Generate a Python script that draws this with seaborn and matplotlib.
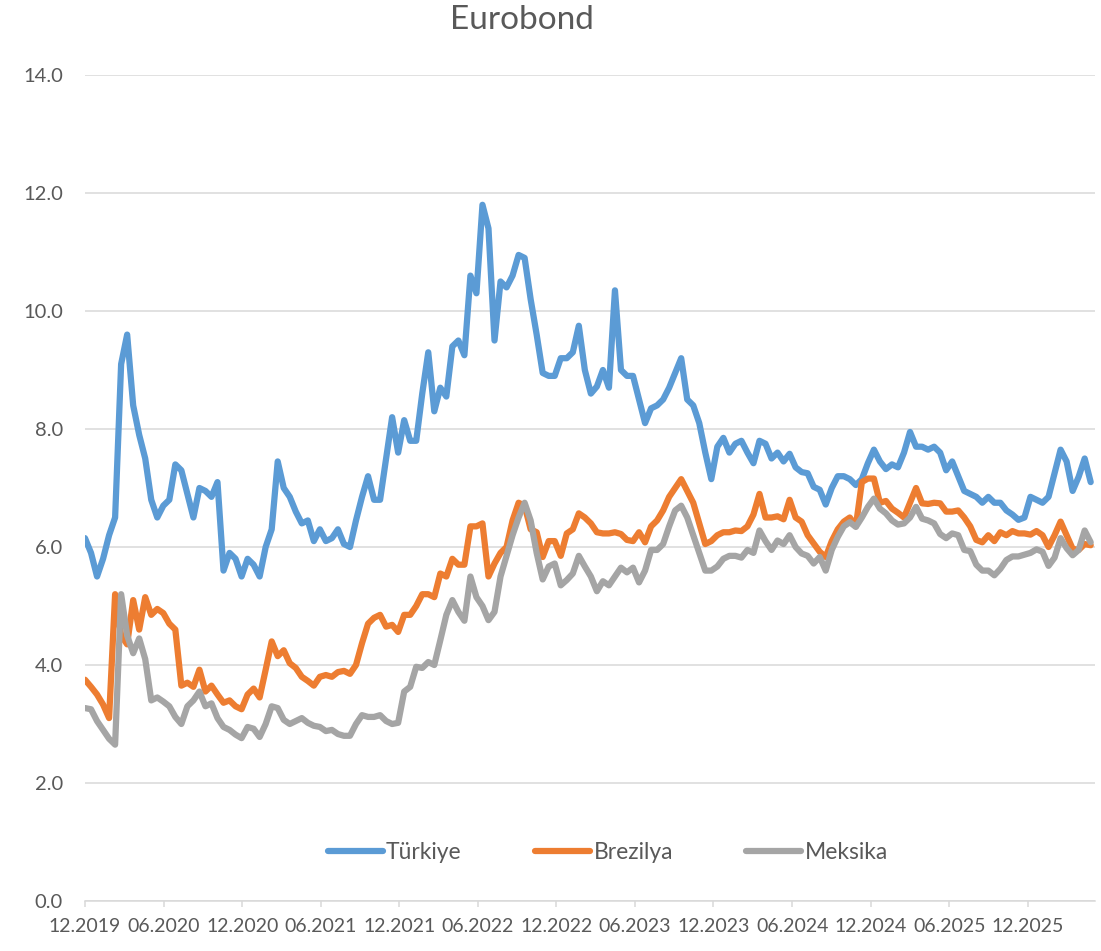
import matplotlib
matplotlib.use("Agg")
import matplotlib.pyplot as plt
from matplotlib.lines import Line2D
from matplotlib.ticker import FormatStrFormatter
import seaborn as sns
import pandas as pd

# ---------------- data (biweekly readings, start 2019-12-01) ----------------
start_date = "2019-12-01"
step = "14D"
series_names = ["Türkiye", "Brezilya", "Meksika"]
series_colors = ["#5B9BD5", "#ED7D31", "#A5A5A5"]

turkiye = [
    6.15, 5.9, 5.5, 5.8, 6.2, 6.5, 9.1, 9.6, 8.4, 7.9, 7.5, 6.8,
    6.5, 6.7, 6.8, 7.4, 7.3, 6.9, 6.5, 7.0, 6.95, 6.85, 7.1, 5.6,
    5.9, 5.8, 5.5, 5.8, 5.7, 5.5, 6.0, 6.3, 7.45, 7.0, 6.85, 6.6,
    6.4, 6.45, 6.1, 6.3, 6.1, 6.15, 6.3, 6.05, 6.0, 6.45, 6.85, 7.2,
    6.8, 6.8, 7.5, 8.2, 7.6, 8.15, 7.8, 7.8, 8.6, 9.3, 8.3, 8.7,
    8.55, 9.4, 9.5, 9.25, 10.6, 10.3, 11.8, 11.4, 9.5, 10.5, 10.4, 10.6,
    10.95, 10.9, 10.2, 9.6, 8.95, 8.9, 8.9, 9.2, 9.2, 9.3, 9.75, 9.0,
    8.6, 8.72, 9.0, 8.7, 10.35, 9.0, 8.9, 8.9, 8.5, 8.1, 8.35, 8.4,
    8.5, 8.7, 8.95, 9.2, 8.5, 8.4, 8.1, 7.6, 7.15, 7.7, 7.85, 7.6,
    7.75, 7.8, 7.6, 7.42, 7.8, 7.75, 7.5, 7.6, 7.45, 7.58, 7.35, 7.27,
    7.25, 7.02, 6.97, 6.72, 7.0, 7.2, 7.2, 7.15, 7.05, 7.15, 7.42, 7.65,
    7.45, 7.32, 7.4, 7.35, 7.6, 7.95, 7.7, 7.7, 7.65, 7.7, 7.6, 7.3,
    7.45, 7.2, 6.95, 6.9, 6.85, 6.75, 6.85, 6.75, 6.75, 6.62, 6.55, 6.46,
    6.5, 6.85, 6.8, 6.75, 6.85, 7.25, 7.65, 7.45, 6.95, 7.19, 7.5, 7.1,
]

brezilya = [
    3.75, 3.63, 3.5, 3.33, 3.1, 5.2, 4.5, 4.35, 5.1, 4.6, 5.15, 4.85,
    4.95, 4.88, 4.7, 4.6, 3.65, 3.7, 3.63, 3.92, 3.55, 3.65, 3.5, 3.36,
    3.4, 3.3, 3.25, 3.5, 3.6, 3.45, 3.92, 4.4, 4.15, 4.25, 4.03, 3.95,
    3.8, 3.73, 3.65, 3.8, 3.83, 3.8, 3.88, 3.9, 3.85, 4.0, 4.37, 4.7,
    4.8, 4.85, 4.65, 4.68, 4.56, 4.85, 4.85, 5.0, 5.2, 5.2, 5.15, 5.55,
    5.5, 5.8, 5.7, 5.7, 6.35, 6.35, 6.4, 5.5, 5.72, 5.9, 6.0, 6.45,
    6.75, 6.7, 6.3, 6.25, 5.83, 6.1, 6.1, 5.85, 6.23, 6.3, 6.57, 6.5,
    6.4, 6.25, 6.23, 6.23, 6.25, 6.22, 6.12, 6.1, 6.25, 6.08, 6.35, 6.45,
    6.62, 6.85, 7.0, 7.15, 6.95, 6.75, 6.4, 6.05, 6.1, 6.2, 6.25, 6.25,
    6.28, 6.27, 6.35, 6.55, 6.9, 6.5, 6.5, 6.52, 6.47, 6.8, 6.5, 6.43,
    6.2, 6.06, 5.92, 5.83, 6.1, 6.3, 6.43, 6.5, 6.35, 7.1, 7.16, 7.16,
    6.75, 6.78, 6.65, 6.58, 6.5, 6.75, 7.0, 6.74, 6.73, 6.75, 6.74, 6.6,
    6.6, 6.62, 6.5, 6.35, 6.12, 6.08, 6.2, 6.1, 6.25, 6.2, 6.27, 6.23,
    6.23, 6.21, 6.27, 6.2, 6.0, 6.2, 6.43, 6.2, 5.97, 5.95, 6.05, 6.03,
]

meksika = [
    3.27, 3.25, 3.05, 2.9, 2.75, 2.65, 5.2, 4.5, 4.2, 4.45, 4.1, 3.4,
    3.45, 3.38, 3.3, 3.12, 3.0, 3.3, 3.4, 3.55, 3.3, 3.35, 3.1, 2.95,
    2.9, 2.82, 2.76, 2.95, 2.92, 2.78, 3.0, 3.3, 3.27, 3.07, 3.0, 3.05,
    3.1, 3.02, 2.97, 2.95, 2.88, 2.9, 2.83, 2.8, 2.8, 3.0, 3.15, 3.12,
    3.12, 3.15, 3.05, 3.0, 3.02, 3.55, 3.63, 3.97, 3.95, 4.05, 4.0, 4.42,
    4.85, 5.1, 4.9, 4.75, 5.5, 5.15, 5.0, 4.76, 4.9, 5.5, 5.85, 6.2,
    6.5, 6.75, 6.45, 5.9, 5.45, 5.67, 5.72, 5.35, 5.44, 5.55, 5.85, 5.67,
    5.5, 5.25, 5.42, 5.35, 5.5, 5.65, 5.57, 5.65, 5.4, 5.6, 5.95, 5.95,
    6.05, 6.35, 6.62, 6.7, 6.5, 6.2, 5.9, 5.6, 5.6, 5.67, 5.8, 5.85,
    5.85, 5.82, 5.95, 5.9, 6.28, 6.1, 5.95, 6.11, 6.05, 6.2, 6.0, 5.89,
    5.85, 5.72, 5.83, 5.6, 5.95, 6.17, 6.35, 6.42, 6.34, 6.5, 6.68, 6.82,
    6.65, 6.57, 6.45, 6.38, 6.4, 6.5, 6.68, 6.48, 6.45, 6.4, 6.22, 6.15,
    6.23, 6.2, 5.95, 5.93, 5.7, 5.6, 5.6, 5.52, 5.63, 5.78, 5.84, 5.84,
    5.87, 5.9, 5.96, 5.92, 5.68, 5.82, 6.15, 5.98, 5.86, 5.95, 6.28, 6.08,
]

x_tick_labels = ["12.2019", "06.2020", "12.2020", "06.2021", "12.2021", "06.2022",
                 "12.2022", "06.2023", "12.2023", "06.2024", "12.2024", "06.2025",
                 "12.2025"]
y_ticks = [0, 2, 4, 6, 8, 10, 12, 14]
x_end = "2026-05-06"

# ---------------- build long table ----------------
frames = []
for name, vals in zip(series_names, [turkiye, brezilya, meksika]):
    frames.append(pd.DataFrame({
        "Tarih": pd.date_range(start_date, periods=len(vals), freq=step),
        "Getiri": vals,
        "Ülke": name,
    }))
df = pd.concat(frames, ignore_index=True)

# ---------------- style ----------------
sns.set_theme(style="white")
plt.rcParams["font.family"] = ["Lato", "DejaVu Sans"]
text_color = "#595959"
grid_color = "#D9D9D9"

fig = plt.figure(figsize=(11.01, 9.51), dpi=100)
ax = fig.add_axes([85 / 1101, 1 - 901 / 951, 1010 / 1101, 826 / 951])

sns.lineplot(data=df, x="Tarih", y="Getiri", hue="Ülke",
             palette=dict(zip(series_names, series_colors)),
             hue_order=series_names, linewidth=4.5, legend=False, ax=ax,
             solid_capstyle="round", solid_joinstyle="round")

ax.set_xlim(pd.Timestamp(start_date), pd.Timestamp(x_end))
ax.set_ylim(0, 14)
ax.set_yticks(y_ticks)
ax.yaxis.set_major_formatter(FormatStrFormatter("%.1f"))
tick_dates = [pd.to_datetime(lbl, format="%m.%Y") for lbl in x_tick_labels]
ax.set_xticks(tick_dates)
ax.set_xticklabels(x_tick_labels)
ax.set_xlabel("")
ax.set_ylabel("")

ax.grid(axis="y", color=grid_color, linewidth=1.1)
ax.grid(axis="x", visible=False)
for s in ["top", "right", "left"]:
    ax.spines[s].set_visible(False)
ax.spines["bottom"].set_color(grid_color)
ax.spines["bottom"].set_linewidth(1.1)

ax.tick_params(axis="y", length=0, pad=16, labelsize=14.5, labelcolor=text_color)
ax.tick_params(axis="x", length=4.5, width=1.1, color=grid_color, direction="out",
               pad=8, labelsize=14, labelcolor=text_color, bottom=True)

handles = [Line2D([], [], color=c, lw=4.5, solid_capstyle="round") for c in series_colors]
fig.legend(handles, series_names, loc="center", bbox_to_anchor=(0.552, 0.104),
           ncol=3, frameon=False, fontsize=16.5, handlelength=2.4,
           handletextpad=0.15, columnspacing=3.2, labelcolor=text_color)

fig.text(0.474, 1 - 20 / 951, "Eurobond", ha="center", va="center",
         fontsize=24, color=text_color)

fig.savefig("out.png", dpi=100)
